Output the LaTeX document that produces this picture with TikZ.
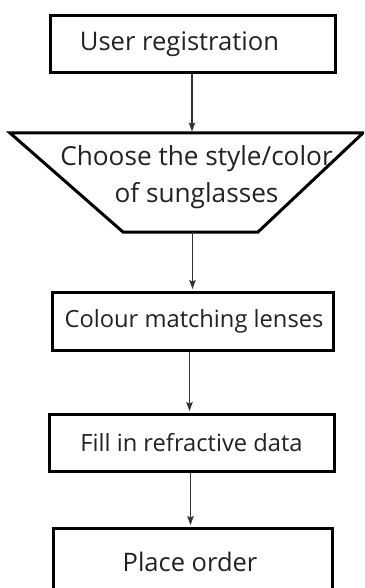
\documentclass[tikz,border=0pt]{standalone}
\usepackage{fontspec}
\setmainfont{Open Sans}
\usetikzlibrary{arrows.meta}
\definecolor{txt}{HTML}{222222}
\definecolor{arrc}{HTML}{333333}
\newcommand{\fs}[1]{\fontsize{#1}{37}\selectfont}
\begin{document}
\begin{tikzpicture}[x=1pt,y=-1pt,
  box/.style={draw=black, line width=3pt, inner sep=0pt, text=txt},
  lbl/.style={inner sep=0pt, text=txt, align=center},
  arr/.style={-{Stealth[length=9pt,width=6.5pt,inset=1.5pt]}, line width=1.1pt, draw=arrc, shorten >=1.5pt}]
\useasboundingbox (0,0) rectangle (364,588);
\clip (0,0) rectangle (364,588);
\node[box, font=\fs{25.6}, minimum width=285pt, minimum height=57pt] (b1) at (192.5,44.5) {User registration\kern26pt};
\draw[line width=3pt] (10,133) coordinate (t1) -- (363,133) coordinate (t2) -- (258,232) coordinate (t3) -- (123,232) coordinate (t4) -- cycle;
\node[lbl, font=\fs{26.2}] (trap) at (196.5,177.5) {Choose the style/color\\of sunglasses};
\node[box, font=\fs{23.7}, minimum width=281pt, minimum height=58pt] (b3) at (192.5,321) {\kern3pt Colour matching lenses};
\node[box, font=\fs{23.7}, minimum width=285pt, minimum height=57pt] (b4) at (191.5,442.5) {Fill in refractive data};
\node[box, font=\fs{25.5}, minimum width=279pt, minimum height=68pt] (b5) at (192.5,562) {Place order\kern5pt};
\draw[arr] ([xshift=-0.5pt]b1.south) -- ([xshift=-0.5pt]b1.south |- t1);
\draw[arr] (b1.south |- t4) -- (b1.south |- b3.north);
\draw[arr] ([xshift=-3pt]b3.south) -- ([xshift=-3pt]b3.south |- b4.north);
\draw[arr] ([xshift=-1pt]b4.south) -- ([xshift=-1pt]b4.south |- b5.north);
\end{tikzpicture}
\end{document}
